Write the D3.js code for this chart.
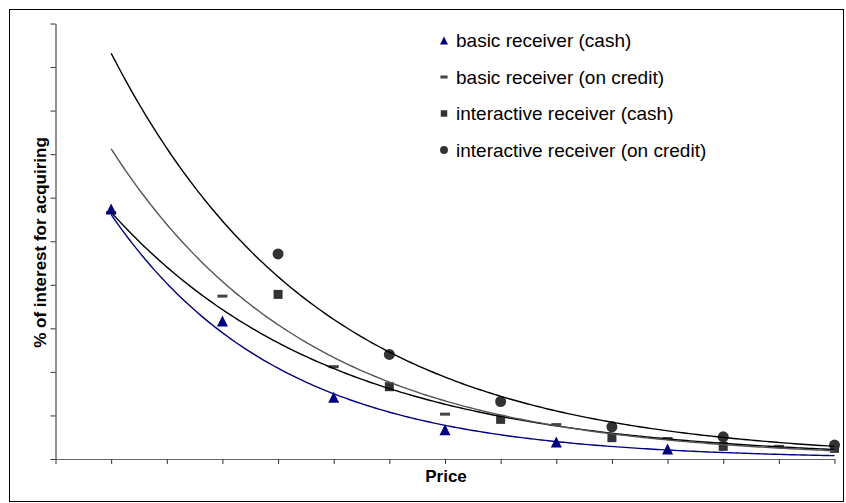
<!DOCTYPE html>
<html><head><meta charset="utf-8">
<script src="https://cdn.jsdelivr.net/npm/d3@7"></script>
<style>body{margin:0;background:#fff}svg{display:block;font-family:"Liberation Sans",Arial,sans-serif}</style>
</head><body>
<svg id="c" width="846" height="503"></svg>
<script>
// ---- data ----
const seriesNames = ["basic receiver (cash)", "basic receiver (on credit)", "interactive receiver (cash)", "interactive receiver (on credit)"];
const basicCashX = [1, 3, 5, 7, 9, 11];
const basicCashY = [57.4, 31.7, 14.2, 6.7, 3.9, 2.3];
const basicCreditX = [1, 3, 5, 7, 9, 11, 13];
const basicCreditY = [56.6, 37.4, 21.2, 10.3, 7.9, 4.7, 2.9];
const interCashX = [4, 6, 8, 10, 12, 14];
const interCashY = [37.8, 16.6, 9.1, 4.9, 2.9, 2.45];
const interCreditX = [4, 6, 8, 10, 12, 14];
const interCreditY = [47.1, 24.0, 13.2, 7.4, 5.1, 3.2];
const xTicks = [0,1,2,3,4,5,6,7,8,9,10,11,12,13,14];
const yTicks = [0,10,20,30,40,50,60,70,80,90,100];
const trendFrom = 1, trendTo = 14;

const svg = d3.select("#c");
const x = d3.scaleLinear().domain([0, 14]).range([55.5, 834.5]);
const y = d3.scaleLinear().domain([0, 100]).range([459, 23.5]);

// outer frame
svg.append("rect").attr("x", 9.5).attr("y", 9.5).attr("width", 834).attr("height", 492)
  .attr("fill", "none").attr("stroke", "#000").attr("stroke-width", 1);

// axes
const ya = svg.append("g").attr("transform", "translate(55.5,0)")
  .call(d3.axisLeft(y).tickValues(yTicks).tickFormat("").tickSize(5).tickSizeOuter(0));
const xa = svg.append("g").attr("transform", "translate(0,459)")
  .call(d3.axisBottom(x).tickValues(xTicks).tickFormat("").tickSize(5).tickSizeOuter(0));
[ya, xa].forEach(g => { g.selectAll("path,line").attr("stroke", "#333"); });
ya.select("path").attr("stroke", "#222");
xa.select("path").attr("stroke", "#666");

// exponential trendline (least squares on ln y), as spreadsheet trendlines do
function expFit(xs, ys) {
  const ly = ys.map(Math.log);
  const mx = d3.mean(xs), my = d3.mean(ly);
  let sxy = 0, sxx = 0;
  xs.forEach((v, i) => { sxy += (v - mx) * (ly[i] - my); sxx += (v - mx) * (v - mx); });
  const b = sxy / sxx, a = my - b * mx;
  return t => Math.exp(a + b * t);
}
const series = [
  {xs: basicCashX, ys: basicCashY, line: "#000080", w: 1.4},
  {xs: basicCreditX, ys: basicCreditY, line: "#000", w: 1.4},
  {xs: interCashX, ys: interCashY, line: "#555", w: 1.4},
  {xs: interCreditX, ys: interCreditY, line: "#000", w: 1.4}
];

// markers
function drawMarker(g, kind, cx, cy, big) {
  const k = big ? 1 : 0.72;
  if (kind === 0) {
    const h = 11 * k, w = 11 * k;
    g.append("path").attr("d", `M${cx},${cy - h/2}L${cx + w/2},${cy + h/2}L${cx - w/2},${cy + h/2}Z`).attr("fill", "#000080");
  } else if (kind === 1) {
    g.append("rect").attr("x", cx - 5*k).attr("y", cy - 1.5).attr("width", 10*k).attr("height", 3).attr("fill", "#444");
  } else if (kind === 2) {
    g.append("rect").attr("x", cx - 4.5*k).attr("y", cy - 4.5*k).attr("width", 9*k).attr("height", 9*k).attr("fill", "#333");
  } else {
    g.append("circle").attr("cx", cx).attr("cy", cy).attr("r", 5.5*k).attr("fill", "#333");
  }
}
const mk = svg.append("g");
[3, 2, 1, 0].forEach(si => {
  const s = series[si];
  s.xs.forEach((v, i) => drawMarker(mk, si, x(v), y(s.ys[i]), true));
});

// trendlines drawn over the markers
const lineGen = d3.line().x(d => x(d[0])).y(d => y(d[1]));
series.forEach(s => {
  const f = expFit(s.xs, s.ys);
  const pts = d3.range(0, 201).map(i => { const t = trendFrom + (trendTo - trendFrom) * i / 200; return [t, f(t)]; });
  svg.append("path").attr("d", lineGen(pts)).attr("fill", "none").attr("stroke", s.line).attr("stroke-width", s.w);
});

// legend
const lg = svg.append("g");
const legY = [40.5, 77, 113.5, 150];
seriesNames.forEach((nm, i) => {
  drawMarker(lg, i, 444, legY[i], false);
  lg.append("text").attr("x", 456).attr("y", legY[i]).attr("dy", "0.35em")
    .attr("font-size", 19).attr("fill", "#000").text(nm);
});

// axis titles
svg.append("text").attr("transform", "translate(46,242.5) rotate(-90)").attr("text-anchor", "middle")
  .attr("font-size", 17).attr("font-weight", "bold").text("% of interest for acquiring");
svg.append("text").attr("x", 446).attr("y", 482).attr("text-anchor", "middle")
  .attr("font-size", 17).attr("font-weight", "bold").text("Price");
</script>
</body></html>
